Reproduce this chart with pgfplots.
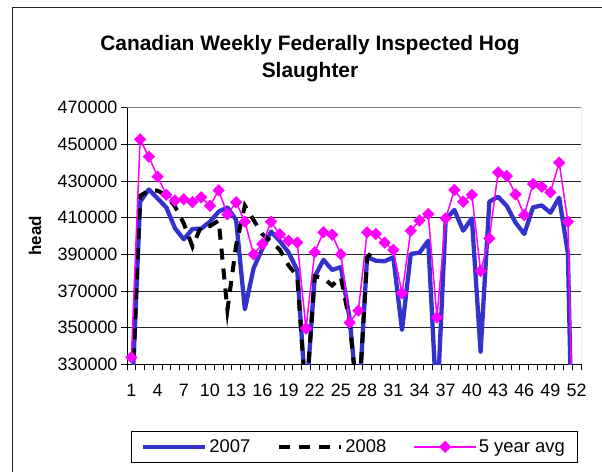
\documentclass[border=0pt]{standalone}
\usepackage{fontspec}
\setmainfont{Liberation Sans}
\usepackage{pgfplots}
\pgfplotsset{compat=1.18}
\definecolor{sblue}{RGB}{51,51,204}
\definecolor{smag}{RGB}{255,0,255}
\begin{document}
\begin{tikzpicture}
\useasboundingbox (0bp,0bp) rectangle (602bp,472bp);
\draw[line width=1.5bp, black!85] (12.7bp,-5bp) -- (12.7bp,464.3bp) -- (610bp,464.3bp);
\node[font=\bfseries\fontsize{21}{27}\selectfont, align=center] at (310bp,413bp) {Canadian Weekly Federally Inspected Hog\\Slaughter};
\begin{axis}[
  at={(127bp,107.7bp)}, anchor=south west,
  scale only axis, width=454bp, height=256.6bp,
  xmin=0.5, xmax=52.5, ymin=330000, ymax=470000,
  axis lines*=left,
  axis line style={black, line width=1bp},
  tick align=outside,
  major tick length=6bp,
  tick style={black, line width=0.8bp},
  xtick={0.5,1.5,...,52.5}, xticklabels={},
  extra x ticks={1,4,7,10,13,16,19,22,25,28,31,34,37,40,43,46,49,52},
  extra x tick labels={1,4,7,10,13,16,19,22,25,28,31,34,37,40,43,46,49,52},
  extra x tick style={major tick length=0pt, grid=none, xticklabel style={yshift=-16bp}},
  ytick={330000,350000,...,470000},
  yticklabels={330000,350000,370000,390000,410000,430000,450000,470000},
  scaled y ticks=false,
  ymajorgrids=true,
  major grid style={black!85, line width=0.8bp},
  tick label style={font=\fontsize{18}{20}\selectfont},
  ylabel={head},
  every axis y label/.style={at={(rel axis cs:0,0.5)}, xshift=-92bp, rotate=90, anchor=center, font=\bfseries\fontsize{17}{20}\selectfont},
  legend columns=3,
  legend style={at={(0.5,-0.2611)}, anchor=north, draw=black, line width=0.8bp,
    inner xsep=10bp, inner ysep=6bp, font=\fontsize{18.5}{20}\selectfont,
    /tikz/every even column/.append style={column sep=25bp}},
  legend image code/.code={\draw[mark repeat=2,mark phase=2,#1] plot coordinates {(0bp,0bp) (31bp,0bp) (62bp,0bp)};},
  /pgf/number format/fixed,
  /pgf/number format/1000 sep={},
]
\addplot[sblue, line width=4.3bp, line join=round, no markers] coordinates {
(1,303000) (2,418700) (3,425400) (4,420500) (5,415600) (6,404200) (7,398200) (8,403800) (9,404000) (10,407800)
(11,413300) (12,415600) (13,408700) (14,360000) (15,382400) (16,393000) (17,402400) (18,397300) (19,391000) (20,381400)
(21,310000) (22,377800) (23,387000) (24,381500) (25,383000) (26,355000) (27,305000) (28,388500) (29,386500) (30,386200)
(31,388400) (32,348700) (33,390200) (34,390900) (35,397400) (36,305000) (37,409100) (38,414200) (39,402900) (40,409600)
(41,336900) (42,418700) (43,421400) (44,416400) (45,407300) (46,401100) (47,415600) (48,416700) (49,412700) (50,420900)
(51,390500) (52,170000)};
\addlegendentry{2007}
\addplot[black, line width=4bp, dash pattern=on 11bp off 9bp, no markers] coordinates {
(1,300000) (2,422000) (3,424700) (4,424700) (5,422300) (6,416000) (7,406900) (8,394200) (9,405400) (10,405400)
(11,408400) (12,359600) (13,395000) (14,416600) (15,408700) (16,401000) (17,397000) (18,392500) (19,384000) (20,378000)
(21,310000) (22,378000) (23,377000) (24,373000) (25,377500) (26,353000) (27,305000) (28,388000) (29,394000)};
\addlegendentry{2008}
\addplot[smag, line width=1.5bp, mark=square*, mark size=3.6bp, mark options={rotate=45, solid, fill=smag, draw=smag}] coordinates {
(1,333800) (2,452700) (3,443300) (4,432400) (5,422500) (6,419300) (7,420000) (8,418500) (9,421100) (10,416500)
(11,424900) (12,411800) (13,418400) (14,407800) (15,390000) (16,395600) (17,407800) (18,400900) (19,397400) (20,396400)
(21,349600) (22,391100) (23,402000) (24,400700) (25,390000) (26,352700) (27,359300) (28,402000) (29,401100) (30,396400)
(31,392400) (32,368700) (33,402900) (34,408400) (35,412000) (36,355600) (37,409600) (38,425100) (39,418700) (40,422400)
(41,380900) (42,398700) (43,434700) (44,432700) (45,422700) (46,411400) (47,428400) (48,426900) (49,423800) (50,440000)
(51,407800) (52,200000)};
\addlegendentry{5 year avg}
\draw[gray, line width=1bp] (rel axis cs:0,1) -- (rel axis cs:1,1) -- (rel axis cs:1,0);
\end{axis}
\end{tikzpicture}
\end{document}
